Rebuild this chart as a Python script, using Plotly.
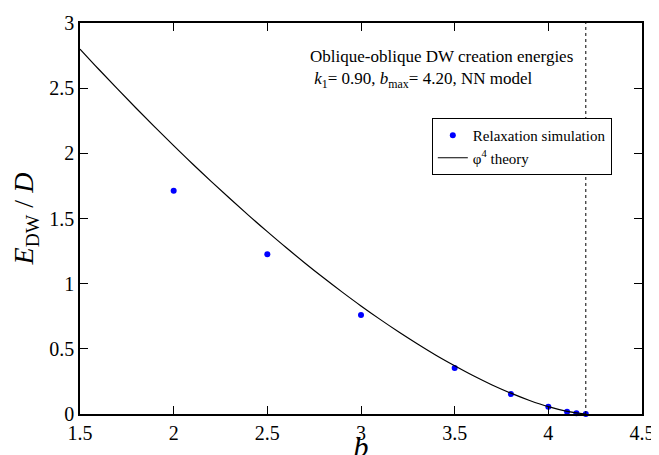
import plotly.graph_objects as go

# Relaxation simulation points
sim_b = [2.0, 2.5, 3.0, 3.5, 3.8, 4.0, 4.1, 4.15, 4.2]
sim_E = [1.712, 1.225, 0.760, 0.352, 0.153, 0.056, 0.018, 0.006, 0.0]

# phi^4 theory curve
th_b = [1.5, 1.6, 1.7, 1.8, 1.9, 2.0, 2.1, 2.2, 2.3, 2.4, 2.5, 2.6, 2.7, 2.8,
        2.9, 3.0, 3.1, 3.2, 3.3, 3.4, 3.5, 3.6, 3.7, 3.8, 3.9, 4.0, 4.1, 4.2]
th_E = [2.800, 2.645, 2.494, 2.346, 2.201, 2.059, 1.920, 1.785, 1.653, 1.524,
        1.399, 1.277, 1.159, 1.045, 0.935, 0.829, 0.728, 0.631, 0.539, 0.451,
        0.370, 0.293, 0.223, 0.160, 0.104, 0.056, 0.020, 0.0]

b_max = 4.2

font = "Liberation Serif"

fig = go.Figure()
fig.add_trace(go.Scatter(x=sim_b, y=sim_E, mode="markers", name="Relaxation simulation",
                         marker=dict(color="#0000ff", size=6), cliponaxis=False))
fig.add_trace(go.Scatter(x=th_b, y=th_E, mode="lines", name="φ<sup>4</sup> theory",
                         line=dict(color="black", width=1.2, shape="spline")))

fig.add_shape(type="line", x0=b_max, x1=b_max, y0=0, y1=3, xref="x", yref="y",
              line=dict(color="black", width=1, dash="dot"))

fig.add_annotation(xref="paper", yref="paper", x=0.406, y=0.945, xanchor="left", yanchor="top",
                   align="left", showarrow=False,
                   text="Oblique-oblique DW creation energies<br> <i>k</i><sub>1</sub>= 0.90, <i>b</i><sub>max</sub>= 4.20, NN model",
                   font=dict(family=font, size=17, color="black"))

axis_common = dict(showline=True, linecolor="black", linewidth=1.5, mirror="ticks",
                   ticks="inside", ticklen=8, tickwidth=1.2, tickcolor="black",
                   showgrid=False, zeroline=False, dtick=0.5, automargin=False,
                   tickfont=dict(family=font, size=20, color="black"))

fig.update_xaxes(range=[1.5, 4.5],
                 title=dict(text="<i>b</i>", font=dict(family=font, size=30, color="black")),
                 **axis_common)
fig.update_yaxes(range=[0, 3],
                 title=dict(text="<i>E</i><sub>DW</sub> / <i>D</i>", font=dict(family=font, size=28, color="black")),
                 **axis_common)

fig.update_layout(
    template="none",
    width=659, height=455,
    margin=dict(l=72, r=25, t=15, b=49),
    paper_bgcolor="white", plot_bgcolor="white",
    showlegend=True,
    legend=dict(x=0.626, y=0.757, xanchor="left", yanchor="top",
                bordercolor="black", borderwidth=1, bgcolor="white",
                font=dict(family=font, size=15, color="black")),
    font=dict(family=font, size=15, color="black"),
)

fig.write_html("out.html")
